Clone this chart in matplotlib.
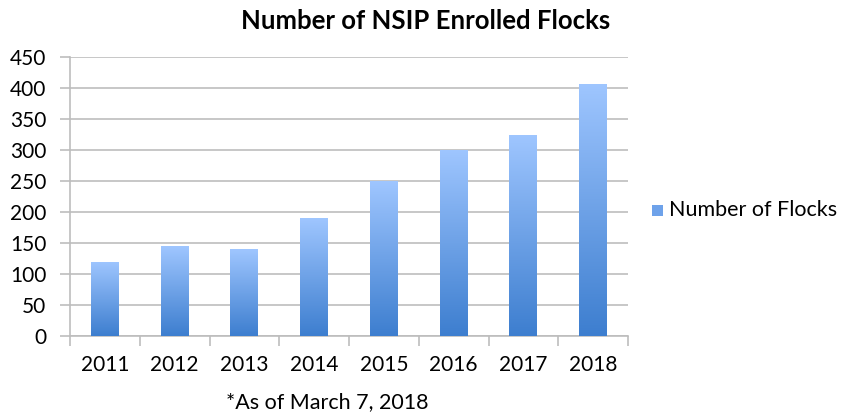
import numpy as np
import matplotlib.pyplot as plt
from matplotlib.colors import LinearSegmentedColormap
from matplotlib.patches import Rectangle

# data
years = ["2011", "2012", "2013", "2014", "2015", "2016", "2017", "2018"]
flocks = [120, 145, 140, 190, 250, 300, 325, 407]

TOP, BOTTOM = "#9fc6ff", "#3d7ecf"
GRID = "#bdbdbd"
plt.rcParams["font.family"] = ["Lato", "DejaVu Sans"]

fig = plt.figure(figsize=(8.5, 4.13), dpi=100)
ax = fig.add_axes([70 / 850, 1 - 336 / 413, 558 / 850, 279 / 413])

cmap = LinearSegmentedColormap.from_list("bar", [BOTTOM, TOP])
grad = np.linspace(0, 1, 256).reshape(-1, 1)
x = np.arange(len(years))
bars = ax.bar(x, flocks, width=0.4, color="none", zorder=3)
for b in bars:
    im = ax.imshow(grad, cmap=cmap, origin="lower", aspect="auto",
                   extent=[b.get_x(), b.get_x() + b.get_width(), 0, b.get_height()],
                   zorder=3)
    im.set_clip_path(b)

ax.set_xlim(-0.5, len(years) - 0.5)
ax.set_ylim(0, 450)
ax.set_yticks(range(0, 451, 50))
ax.yaxis.grid(True, color=GRID, lw=1.2, zorder=0)
ax.set_axisbelow(True)

ax.set_xticks(x)
ax.set_xticklabels(years, fontsize=15)
ax.set_xticks(np.arange(-0.5, len(years), 1), minor=True)
ax.tick_params(axis="x", which="major", length=0, pad=14)
ax.tick_params(axis="x", which="minor", length=7, color=GRID, width=1.2)
ax.tick_params(axis="y", length=7, color=GRID, width=1.2, labelsize=15, pad=10)

for s in ["top", "right"]:
    ax.spines[s].set_visible(False)
for s in ["left", "bottom"]:
    ax.spines[s].set_color(GRID)
    ax.spines[s].set_linewidth(1.2)

fig.text(426 / 850, 1 - 21 / 413, "Number of NSIP Enrolled Flocks",
         ha="center", va="center", fontsize=18.5, fontweight="bold")
fig.text(327 / 850, 1 - 402 / 413, "*As of March 7, 2018",
         ha="center", va="center", fontsize=15.5)

# legend
fig.patches.append(Rectangle((652 / 850, 1 - 216 / 413), 11 / 850, 11 / 413,
                             transform=fig.transFigure, facecolor="#6ea2ea",
                             edgecolor="none"))
fig.text(669 / 850, 1 - 210 / 413, "Number of Flocks",
         ha="left", va="center", fontsize=15.5)

fig.savefig("out.png", dpi=100)
